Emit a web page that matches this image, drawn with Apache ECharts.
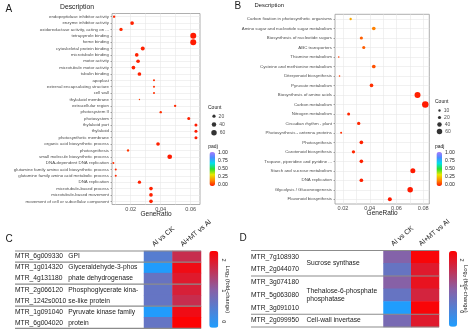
<!DOCTYPE html>
<html><head><meta charset="utf-8">
<script src="https://cdn.jsdelivr.net/npm/echarts@6/dist/echarts.min.js"></script>
<style>html,body{margin:0;padding:0;background:#fff}#c{width:474px;height:333px}</style>
</head><body><div id="c"></div>
<script>
// ---------- Panel A (GO enrichment) ----------
const aTerms = ['endopeptidase inhibitor activity','enzyme inhibitor activity','oxidoreductase activity, acting on ...','tetrapyrrole binding','heme binding','cytoskeletal protein binding','microtubule binding','motor activity','microtubule motor activity','tubulin binding','apoplast','external encapsulating structure','cell wall','thylakoid membrane','extracellular region','photosystem II','photosystem','thylakoid part','thylakoid','photosynthetic membrane','organic acid biosynthetic process','photosynthesis','small molecule biosynthetic process','DNA-dependent DNA replication','glutamine family amino acid biosynthetic process','glutamine family amino acid metabolic process','DNA replication','microtubule-based process','microtubule-based movement','movement of cell or subcellular component'];
const aRatio = [0.0089,0.0209,0.0135,0.0617,0.0617,0.0280,0.0240,0.0249,0.0218,0.0258,0.0355,0.0355,0.0355,0.0258,0.0496,0.0400,0.0587,0.0635,0.0635,0.0635,0.0382,0.0182,0.0460,0.0084,0.0100,0.0100,0.0258,0.0335,0.0335,0.0335];
const aCount = [10,26,21,72,72,31,26,26,26,26,7,7,7,3,10,10,17,17,17,17,26,10,44,7,7,7,21,26,26,26];
const aPadj  = [0.02,0.01,0.02,0.0,0.0,0.01,0.01,0.01,0.01,0.01,0.03,0.03,0.03,0.05,0.02,0.03,0.01,0.0,0.0,0.0,0.01,0.04,0.0,0.03,0.02,0.02,0.01,0.01,0.01,0.01];
const aSizeLegend = [20,40,60];
const aRatioTicks = [0.02,0.04,0.06];
const aRatioGrid = [0.01,0.02,0.03,0.04,0.05,0.06];

// ---------- Panel B (KEGG enrichment) ----------
const bTerms = ['Carbon fixation in photosynthetic organisms','Amino sugar and nucleotide sugar metabolism','Biosynthesis of nucleotide sugars','ABC transporters','Thiamine metabolism','Cysteine and methionine metabolism','Diterpenoid biosynthesis','Pyruvate metabolism','Biosynthesis of amino acids','Carbon metabolism','Nitrogen metabolism','Circadian rhythm - plant','Photosynthesis - antenna proteins','Photosynthesis','Carotenoid biosynthesis','Tropane, piperidine and pyridine ...','Starch and sucrose metabolism','DNA replication','Glycolysis / Gluconeogenesis','Flavonoid biosynthesis'];
const bRatio = [0.0257,0.0430,0.0337,0.0355,0.0168,0.0430,0.0174,0.0413,0.0757,0.0815,0.0242,0.0317,0.0186,0.0337,0.0278,0.0337,0.0722,0.0337,0.0702,0.0550];
const bCount = [10,26,19,19,4,26,4,26,73,86,17,21,7,26,21,26,50,26,61,31];
const bPadj  = [0.22,0.15,0.10,0.10,0.05,0.08,0.05,0.03,0.01,0.0,0.02,0.02,0.03,0.01,0.02,0.01,0.0,0.01,0.0,0.0];
const bSizeLegend = [10,20,40,60];
const bRatioTicks = [0.02,0.04,0.06,0.08];
const bRatioGrid = [0.02,0.03,0.04,0.05,0.06,0.07,0.08];
const padjTicks = [0,0.25,0.5,0.75,1];

// ---------- Panel C (heatmap) ----------
const conditions = ['Al vs CK','Al+MT vs Al'];
const cGenes = ['MTR_6g009330','MTR_1g014320','MTR_4g131180','MTR_2g066120','MTR_1242s0010','MTR_1g091040','MTR_6g004020'];
const cDesc  = ['GPI','Glyceraldehyde-3-phos','phate dehydrogenase','Phosphoglycerate kina-','se-like protein','Pyruvate kinase family','protein'];
const cGroupSizes = [1,2,2,2];
const cAlCK = [0.45,-0.15,0.65,0.62,0.62,-0.15,0.62];
const cMT   = [1.70,2.13,1.95,1.87,1.70,2.13,2.27];
const cRange = [-0.19,2.29];

// ---------- Panel D (heatmap) ----------
const dGenes = ['MTR_7g108930','MTR_2g044070','MTR_3g074180','MTR_5g063080','MTR_3g091010','MTR_2g099950'];
const dGroups = ['Sucrose synthase','Thehalose-6-phosphate\nphosphatase','Cell-wall invertase'];
const dGroupSizes = [2,3,1];
const dAlCK = [0.80,0.40,0.85,0.40,-0.55,0.64];
const dMT   = [2.28,1.95,2.06,1.80,2.28,1.95];
const dRange = [-0.58,2.35];
const fcTicks = [0,1,2];

// ---------- styling ----------
const FONT = 'Liberation Sans, Arial, Helvetica, sans-serif';
const dotSize = c => 0.68 * Math.sqrt(c) + 0.2;
const rainbow = ['#ff1a00','#ff8c00','#e8e800','#2ee02e','#00e0ea','#4a8cff','#a77bff'];
const fcColors = ['#1e9eff','#8a5fa4','#ff0000'];
const gridCol = '#e8e8e8';
const axTxt = '#4d4d4d';

function ttl(text, left, top, size, color) {
  return {text, left, top, padding:0, textStyle:{fontSize:size, fontWeight:'normal', color:color||'#1a1a1a', fontFamily:FONT}};
}
function hiddenX(gi){ return {gridIndex:gi, type:'value', show:false, min:-1, max:1}; }

function dotAxisX(gi, min, max, ticks, gridVals){
  return {gridIndex:gi, type:'value', min, max,
    axisLine:{show:false}, axisTick:{show:false, customValues:gridVals},
    splitLine:{show:true, lineStyle:{color:gridCol, width:0.6}},
    axisLabel:{customValues:ticks, formatter:v=>v.toFixed(2), fontSize:5.6, color:axTxt, margin:1.5, fontFamily:FONT},
    name:'GeneRatio', nameLocation:'middle', nameGap:6, nameMoveOverlap:false,
    nameTextStyle:{fontSize:6.5, color:'#1a1a1a', fontFamily:FONT}};
}
function dotAxisY(gi, terms, fs){
  return {gridIndex:gi, type:'category', data:terms, inverse:true,
    axisLine:{show:false}, axisTick:{show:true, length:1.5, alignWithLabel:true, lineStyle:{color:'#555', width:0.5}},
    axisLabel:{interval:0, fontSize:fs, color:axTxt, margin:3, fontFamily:FONT},
    splitLine:{show:true, alignWithLabel:true, lineStyle:{color:gridCol, width:0.6}}};
}
function cbarAxisY(gi, min, max, ticks, fmt, fs, rot, name){
  const ax = {gridIndex:gi, type:'value', min, max, position:'right',
    axisLine:{show:false}, axisTick:{show:false}, splitLine:{show:false},
    axisLabel:{customValues:ticks, formatter:fmt, fontSize:fs, color:'#1a1a1a', margin:rot?2:3, rotate:rot||0, fontFamily:FONT}};
  if (name) Object.assign(ax, {name, nameLocation:'middle', nameRotate:-90, nameGap:6, nameMoveOverlap:false,
    nameTextStyle:{fontSize:5.8, color:'#1a1a1a', fontFamily:FONT}});
  return ax;
}
function legendSeries(gi, sizes){
  return {type:'scatter', xAxisIndex:gi, yAxisIndex:gi, data:sizes.map(c=>[0,String(c),c]),
    symbolSize:d=>dotSize(d[2]), itemStyle:{color:'#000'}, silent:true,
    label:{show:true, position:'right', distance:3, formatter:p=>p.value[2], fontSize:5, color:'#1a1a1a', fontFamily:FONT}};
}
function heatData(a, b){ const out=[]; a.forEach((v,i)=>{out.push([0,i,v]); out.push([1,i,b[i]]);}); return out; }

const option = {
  animation:false, backgroundColor:'#fff', textStyle:{fontFamily:FONT},
  title:[
    ttl('A',5.5,4,10), ttl('B',234.5,1,10), ttl('C',5.5,234,10), ttl('D',239.5,233.5,10),
    ttl('Description',60,3.5,6.8), ttl('Description',254.5,2,5.9),
    ttl('Count',208,104.8,5), ttl('padj',208.3,144,5),
    ttl('Count',435,99,5), ttl('padj',435,144,5)
  ],
  grid:[
    {left:112, top:13.5, width:88, height:191, show:true, borderColor:'#9a9a9a', borderWidth:0.8, backgroundColor:'#fff'},
    {left:335, top:14.3, width:94.3, height:189.7, show:true, borderColor:'#9a9a9a', borderWidth:0.8, backgroundColor:'#fff'},
    {left:144, top:251, width:57, height:77.3},
    {left:383.5, top:250.5, width:55.5, height:76.5},
    {left:210, top:112, width:8, height:25},
    {left:435.5, top:107, width:8, height:28},
    {left:209.5, top:152.7, width:5.5, height:32.3},
    {left:436.5, top:152.7, width:5.5, height:32.3},
    {left:209.3, top:251, width:9, height:76.7},
    {left:449, top:251, width:8, height:75.7}
  ],
  xAxis:[
    dotAxisX(0, 0.0075, 0.0662, aRatioTicks, aRatioGrid),
    dotAxisX(1, 0.0140, 0.0845, bRatioTicks, bRatioGrid),
    {gridIndex:2, type:'category', data:conditions, position:'top', axisLine:{show:false}, axisTick:{show:false}, axisLabel:{show:false}},
    {gridIndex:3, type:'category', data:conditions, position:'top', axisLine:{show:false}, axisTick:{show:false}, axisLabel:{show:false}},
    hiddenX(4), hiddenX(5), hiddenX(6), hiddenX(7), hiddenX(8), hiddenX(9)
  ],
  yAxis:[
    dotAxisY(0, aTerms, 4.4),
    dotAxisY(1, bTerms, 4.4),
    {gridIndex:2, type:'category', data:cGenes, inverse:true, axisLine:{show:false}, axisTick:{show:false},
      axisLabel:{interval:0, align:'left', margin:129,
        formatter:(v,i)=>'{g|'+v+'}{d|'+cDesc[i]+'}',
        rich:{g:{width:53.3, fontSize:6.7, color:'#1a1a1a', fontFamily:FONT}, d:{fontSize:6.7, color:'#1a1a1a', fontFamily:FONT}}}},
    {gridIndex:3, type:'category', data:dGenes, inverse:true, axisLine:{show:false}, axisTick:{show:false},
      axisLabel:{interval:0, align:'left', margin:132.5, fontSize:6.7, color:'#1a1a1a', fontFamily:FONT}},
    {gridIndex:4, type:'category', data:aSizeLegend.map(String), inverse:true, show:false},
    {gridIndex:5, type:'category', data:bSizeLegend.map(String), inverse:true, show:false},
    cbarAxisY(6, 0, 1, padjTicks, v=>v.toFixed(2), 5),
    cbarAxisY(7, 0, 1, padjTicks, v=>v.toFixed(2), 5),
    cbarAxisY(8, cRange[0], cRange[1], fcTicks, v=>String(v), 5.5, -90, 'Log\u2082 (fold-change)'),
    cbarAxisY(9, dRange[0], dRange[1], fcTicks, v=>String(v), 5.5, -90, 'Log\u2082 (fold-change)')
  ],
  visualMap:[
    {type:'continuous', seriesIndex:0, dimension:3, min:0, max:1, inRange:{color:rainbow}, calculable:false,
      left:209.5, top:152, itemWidth:5.5, itemHeight:34, padding:0, orient:'vertical'},
    {type:'continuous', seriesIndex:1, dimension:3, min:0, max:1, inRange:{color:rainbow}, calculable:false,
      left:436.5, top:152, itemWidth:5.5, itemHeight:34, padding:0, orient:'vertical'},
    {type:'continuous', seriesIndex:2, dimension:2, min:cRange[0], max:cRange[1], inRange:{color:fcColors}, calculable:false,
      left:209.3, top:251, itemWidth:9, itemHeight:76.7, padding:0, orient:'vertical'},
    {type:'continuous', seriesIndex:3, dimension:2, min:dRange[0], max:dRange[1], inRange:{color:fcColors}, calculable:false,
      left:449, top:251, itemWidth:8, itemHeight:75.7, padding:0, orient:'vertical'}
  ],
  series:[
    {type:'scatter', xAxisIndex:0, yAxisIndex:0, data:aTerms.map((t,i)=>[aRatio[i],t,aCount[i],aPadj[i]]),
      symbolSize:d=>dotSize(d[2]), itemStyle:{opacity:1}},
    {type:'scatter', xAxisIndex:1, yAxisIndex:1, data:bTerms.map((t,i)=>[bRatio[i],t,bCount[i],bPadj[i]]),
      symbolSize:d=>dotSize(d[2]), itemStyle:{opacity:1}},
    {type:'heatmap', xAxisIndex:2, yAxisIndex:2, data:heatData(cAlCK,cMT)},
    {type:'heatmap', xAxisIndex:3, yAxisIndex:3, data:heatData(dAlCK,dMT)},
    legendSeries(4, aSizeLegend),
    legendSeries(5, bSizeLegend)
  ]
};

const chart = echarts.init(document.getElementById('c'), null, {renderer:'canvas'});
chart.setOption(option);

// group separators, column headers and group descriptions, positioned through the axes
const gfx = [];
function px(gi, x, y){ return chart.convertToPixel({gridIndex:gi}, [x, y]); }
function heatDecor(gi, groupSizes, labelLeft){
  const y0 = px(gi,0,0)[1], band = px(gi,0,1)[1] - y0;
  const x0 = px(gi,0,0)[0], x1 = px(gi,1,0)[0];
  const xR = x1 + (x1 - x0)/2;
  const top = y0 - band/2;
  const bounds = [top]; let r = 0;
  groupSizes.forEach(s=>{ r += s; bounds.push(y0 + band*(r - 0.5)); });
  bounds.forEach(y=>gfx.push({type:'line', z:100, silent:true,
    shape:{x1:labelLeft, y1:y, x2:xR, y2:y}, style:{stroke:'#8c8c8c', lineWidth:1.2}}));
  conditions.forEach((c,j)=>{
    const xc = px(gi,j,0)[0];
    gfx.push({type:'text', z:100, silent:true, x:xc-3, y:top-3, rotation:40*Math.PI/180,
      style:{text:c, fontSize:7, fontFamily:FONT, fill:'#1a1a1a', align:'left', verticalAlign:'bottom'}});
  });
  return {y0, band};
}
heatDecor(2, cGroupSizes, 144 - 129);
const dg = heatDecor(3, dGroupSizes, 383.5 - 132.5);
let start = 0;
dGroups.forEach((name, k)=>{
  const s = dGroupSizes[k];
  const yc = dg.y0 + dg.band*(start + (s-1)/2);
  gfx.push({type:'text', z:100, silent:true, x:306.5, y:yc,
    style:{text:name, fontSize:6.7, fontFamily:FONT, fill:'#1a1a1a', align:'left', verticalAlign:'middle', lineHeight:7.6}});
  start += s;
});
chart.setOption({graphic:gfx});
</script>
</body></html>
